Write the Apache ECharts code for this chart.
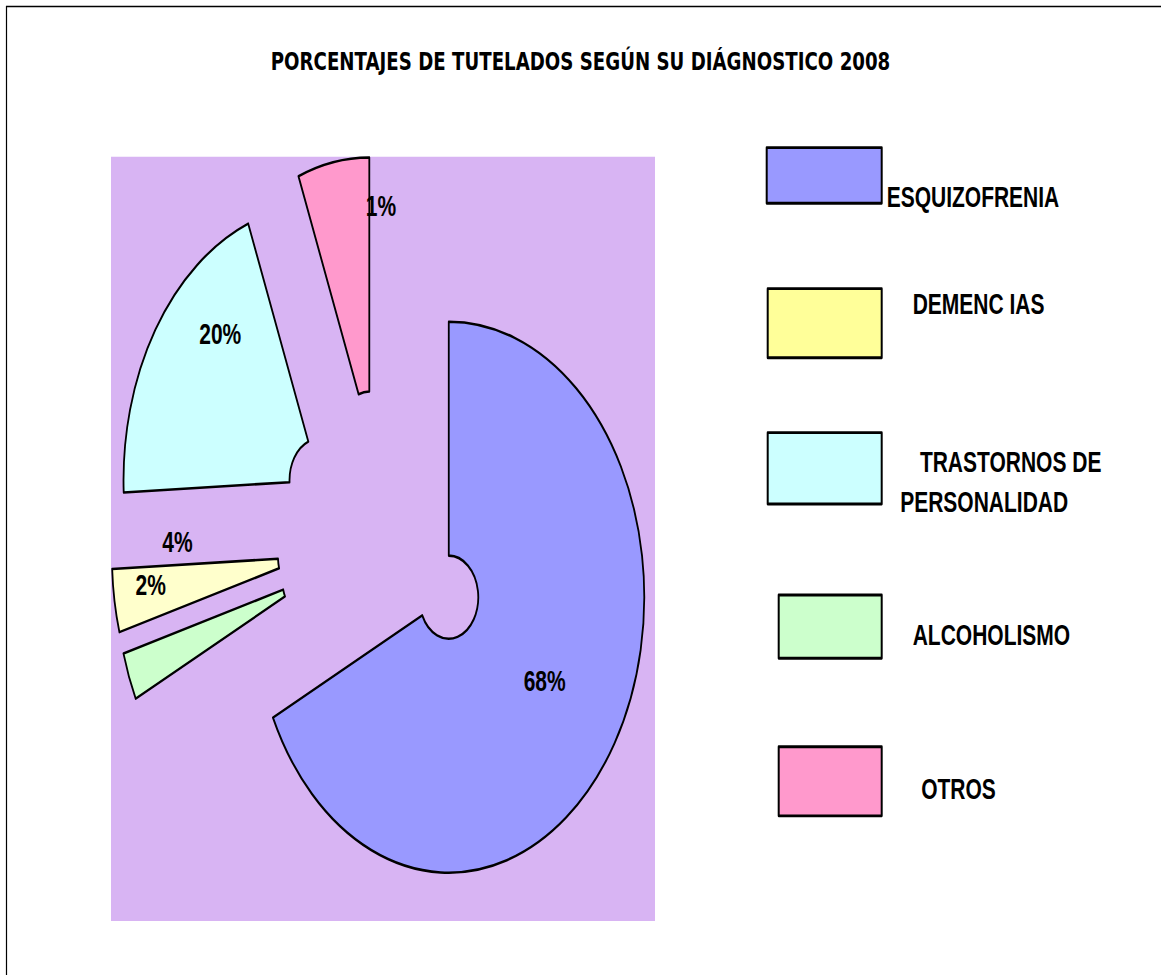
<!DOCTYPE html>
<html>
<head>
<meta charset="utf-8">
<script src="https://cdn.jsdelivr.net/npm/echarts@6/dist/echarts.min.js"></script>
<style>
html { margin: 0; padding: 0; background: #ffffff; overflow: hidden; width: 1161px; height: 975px; }
body { margin: 0; padding: 0; background: #ffffff; width: 1161px; height: 975px; }
/* the reference picture is stretched vertically (round pie looks like an ellipse) */
#chart { width: 1161px; height: 692px; transform: scaleY(1.40896); transform-origin: 0 0; }
</style>
</head>
<body>
<div id="chart"></div>
<script>
// ---- data (clockwise from 12 o'clock) ----
const categories = ['ESQUIZOFRENIA', 'ALCOHOLISMO', 'DEMENC IAS', 'TRASTORNOS DE PERSONALIDAD', 'OTROS'];
const shares = [67.8, 2.8, 3.7, 19.8, 5.9];
const sliceLabels = ['68%', '2%', '4%', '20%', '1%'];
const legendOrder = ['ESQUIZOFRENIA', 'DEMENC IAS', 'TRASTORNOS DE PERSONALIDAD', 'ALCOHOLISMO', 'OTROS'];
const titleText = 'PORCENTAJES DE TUTELADOS SEGÚN SU DIÁGNOSTICO 2008';

// ---- styles ----
const sliceColors = {
  'ESQUIZOFRENIA': '#9999ff',
  'ALCOHOLISMO': '#ccffcc',
  'DEMENC IAS': '#ffffcc',
  'TRASTORNOS DE PERSONALIDAD': '#ccffff',
  'OTROS': '#ff99cc'
};
const legendColors = {
  'ESQUIZOFRENIA': '#9999ff',
  'ALCOHOLISMO': '#ccffcc',
  'DEMENC IAS': '#ffff99',
  'TRASTORNOS DE PERSONALIDAD': '#ccffff',
  'OTROS': '#ff99cc'
};
// label nudges, as in the reference layout
const labelNudge = [[-2, -2], [-53, -37], [-16, -29], [-2, -41], [33, -48]];

const labelFont = '"Liberation Sans", Arial, sans-serif';
const chart = echarts.init(document.getElementById('chart'), null, { renderer: 'svg', width: 1161, height: 692 });

const legendBoxes = [
  { left: 765.7, top: 98.2, w: 115, h: 39.5, pad: [30.6, 0, 0, 0] },
  { left: 766.7, top: 203.9, w: 114, h: 49, pad: [0, 0, 27.6, 26] },
  { left: 766.7, top: 294.2, w: 114, h: 50.6, pad: [18.8, 0, 0, 13.5], twoLines: true },
  { left: 777.7, top: 421.3, w: 103, h: 44.9, pad: [12, 0, 0, 26] },
  { left: 777.7, top: 529, w: 103, h: 49, pad: [9.8, 0, 0, 34.5] }
];

function tokenStyle(lh, pad) {
  const s = { fontFamily: labelFont, fontWeight: 'bold', fontSize: 21, color: '#000', lineHeight: lh };
  if (pad) s.padding = pad;
  return s;
}

const legends = legendOrder.map(function (name, i) {
  const b = legendBoxes[i];
  const lg = {
    data: [{ name: name, itemStyle: { color: legendColors[name] } }],
    left: b.left, top: b.top, padding: 0,
    orient: 'vertical', icon: 'rect',
    itemWidth: b.w, itemHeight: b.h,
    selectedMode: false,
    itemStyle: { borderColor: '#000', borderWidth: 2 },
    formatter: '{a|' + name + '}',
    textStyle: {
      color: '#000', fontFamily: labelFont, fontWeight: 'bold', fontSize: 21,
      lineHeight: 22, padding: b.pad,
      rich: { a: tokenStyle(22) }
    }
  };
  if (b.twoLines) {
    const words = name.split(' ');
    lg.formatter = '{a|' + words.slice(0, 2).join(' ') + '}\n{b|' + words.slice(2).join(' ') + '}';
    lg.textStyle.lineHeight = 28.8;
    lg.textStyle.rich = { a: tokenStyle(28.8, [0, 0, 0, 19.7]), b: tokenStyle(28.8) };
  }
  return lg;
});

const option = {
  backgroundColor: '#ffffff',
  animation: false,
  title: {
    text: titleText,
    left: 'center', top: 34, padding: 0,
    textStyle: { fontFamily: '"DejaVu Sans", sans-serif', fontWeight: 'bold', fontSize: 18.2, color: '#000' }
  },
  legend: legends,
  graphic: [
    { type: 'rect', silent: true, shape: { x: 111, y: 111.3, width: 544, height: 542.4 }, style: { fill: '#d8b4f3' } },
    { type: 'polyline', silent: true, shape: { points: [[6.5, 692], [6.5, 4.6], [1161, 4.6]] }, style: { stroke: '#000', lineWidth: 1.2, fill: null } }
  ],
  series: [{
    type: 'pie',
    center: [383.5, 383],
    radius: [29.5, 195.5],
    startAngle: 90,
    clockwise: true,
    selectedMode: 'multiple',
    selectedOffset: 77,
    avoidLabelOverlap: false,
    emphasis: { disabled: true },
    itemStyle: { borderColor: '#000', borderWidth: 1.8 },
    labelLine: { show: false },
    label: {
      show: true, position: 'inside',
      formatter: function (p) { return sliceLabels[p.dataIndex]; },
      color: '#000', fontFamily: labelFont, fontWeight: 'bold', fontSize: 21
    },
    labelLayout: function (p) {
      const n = labelNudge[p.dataIndex];
      return { dx: n[0], dy: n[1] };
    },
    data: categories.map(function (name, i) {
      return { name: name, value: shares[i], selected: true, itemStyle: { color: sliceColors[name] } };
    })
  }]
};
chart.setOption(option);
</script>
</body>
</html>
